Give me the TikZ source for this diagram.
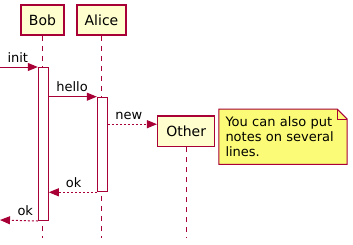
\documentclass[tikz,border=0pt]{standalone}
\usepackage{fontspec}
\setmainfont{DejaVu Sans}
\usetikzlibrary{arrows.meta,backgrounds}
\definecolor{umlrot}{HTML}{A80036}
\definecolor{umlgelb}{HTML}{FEFECE}
\definecolor{notizgelb}{HTML}{FBFB77}
\tikzset{
	participant/.style={draw=umlrot,fill=umlgelb,line width=1.5pt,minimum height=30pt,inner sep=0pt,font=\fontsize{14}{16}\selectfont},
	lifeline/.style={umlrot,line width=1pt,dash pattern=on 5pt off 5pt},
	activation/.style={draw=umlrot,fill=white,line width=1pt,minimum width=10pt,inner sep=0pt,anchor=north},
	msg/.style={umlrot,line width=1pt,-{Triangle[length=10pt,width=8pt]}},
	reply/.style={msg,dash pattern=on 2pt off 2pt},
	lbl/.style={anchor=base west,inner sep=0pt,text=black,font=\fontsize{13}{15}\selectfont},
	memo/.style={text width=115pt,align=left,inner xsep=6.5pt,inner ysep=0pt,minimum height=55pt,font=\fontsize{13}{15}\selectfont}
}

\begin{document}
\begin{tikzpicture}[x=1pt,y=-1pt]
	\useasboundingbox (0,0) rectangle (353,244);
	
	%teilnehmer
	\node[participant,minimum width=43pt] (bob) at (42.5,20) {Bob};
	\node[participant,minimum width=49pt] (alice) at (101.5,20) {Alice};
	\node[participant,minimum width=57pt,minimum height=30.7pt] (other) at (186.2,131.3) {Other};
	
	\coordinate (bobend) at (42.5,238);
	\coordinate (aliceend) at (101,238);
	\coordinate (otherend) at (186.2,238);
	\draw[lifeline] (bob.south) -- (bobend);
	\draw[lifeline] (alice.south -| aliceend) -- (aliceend);
	\draw[lifeline] (other.south) -- (otherend);
	
	%aktivierung
	\node[activation,minimum height=153pt] (bobact) at (43.3,67) {};
	\node[activation,minimum height=94.6pt] (aliceact) at (102.3,96.7) {};
	
	%nachrichten
	\coordinate (init) at (0,67);
	\coordinate (ret) at (0,220);
	\coordinate (newin) at ([yshift=-9pt]other.north west);
	\draw[msg] (init) -- node[lbl,pos=0,xshift=7pt,yshift=5pt] (initlbl) {init} (bobact.north west);
	\draw[msg] (bobact.east |- aliceact.north) -- node[lbl,pos=0,xshift=7pt,yshift=5pt] (hellolbl) {hello} (aliceact.north west);
	\draw[reply] (aliceact.east |- newin) -- node[lbl,pos=0,xshift=7pt,yshift=5pt] (newlbl) {new} (newin);
	\draw[reply] (aliceact.south west) -- node[lbl,pos=1,xshift=16.5pt,yshift=5pt] (oklbl) {ok} (bobact.east |- aliceact.south);
	\draw[reply] (bobact.south west) -- node[lbl,pos=1,xshift=17pt,yshift=5pt] (retlbl) {ok} (ret);
	
	%notiz
	\node[memo] (notiz) at (283,136.7) {You can also put\\notes on several\\lines.};
	\begin{scope}[on background layer]
		\filldraw[draw=umlrot,fill=notizgelb,line width=1pt] (notiz.north west) -- ([xshift=-10pt]notiz.north east) -- ([yshift=-10pt]notiz.north east) -- (notiz.south east) -- (notiz.south west) -- cycle;
		\draw[umlrot,line width=1pt] ([xshift=-10pt]notiz.north east) -- ([xshift=-10pt,yshift=-10pt]notiz.north east) -- ([yshift=-10pt]notiz.north east);
	\end{scope}
\end{tikzpicture}
\end{document}
